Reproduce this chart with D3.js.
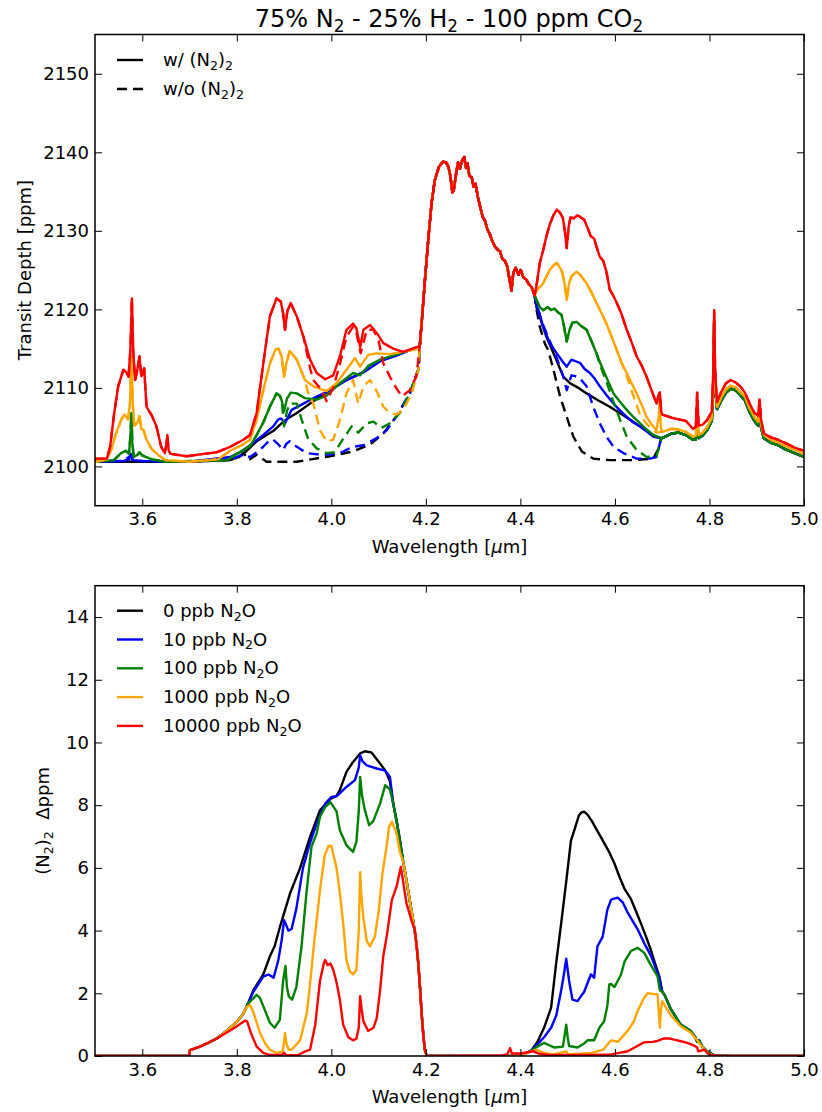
<!DOCTYPE html>
<html>
<head>
<meta charset="utf-8">
<script src="https://cdn.jsdelivr.net/npm/d3@7/dist/d3.min.js"></script>
<style>
  body { margin: 0; background: #fff; }
  svg { font-family: "DejaVu Sans", sans-serif; }
</style>
</head>
<body>
<svg id="chart" width="822" height="1112"></svg>
<script>
// ---- data: [wavelength (um), value] ----
const seriesNames = ["0", "10", "100", "1000", "10000"];
const seriesColors = ["#000000", "#0000ff", "#008000", "#ffa500", "#ff0000"];
const xTickValues = [3.6, 3.8, 4.0, 4.2, 4.4, 4.6, 4.8, 5.0];
const topYTicks = [2100, 2110, 2120, 2130, 2140, 2150];
const bottomYTicks = [0, 2, 4, 6, 8, 10, 12, 14];

// top panel: part every curve shares (CO2 band)
const topShared = [[4.187,2115.3],[4.191,2118.2],[4.198,2123.7],[4.205,2128.8],[4.212,2133.5],[4.219,2136.5],[4.228,2138.2],[4.236,2138.8],[4.243,2138.7],[4.248,2138.1],[4.252,2136.9],[4.256,2134.9],[4.259,2135.2],[4.264,2137.3],[4.268,2138.7],[4.272,2137.9],[4.276,2138.9],[4.281,2139.4],[4.285,2138.0],[4.288,2138.6],[4.292,2137.0],[4.297,2136.8],[4.301,2135.6],[4.305,2136.0],[4.310,2134.3],[4.314,2133.3],[4.320,2131.8],[4.325,2131.3],[4.330,2130.2],[4.335,2129.6],[4.340,2128.8],[4.346,2128.0],[4.352,2127.6],[4.357,2127.4],[4.362,2126.4],[4.367,2126.2],[4.372,2125.5],[4.377,2123.8],[4.381,2122.4],[4.385,2124.6],[4.390,2125.3],[4.396,2124.4],[4.401,2125.0],[4.406,2124.1],[4.412,2123.8],[4.418,2123.2],[4.424,2122.8],[4.430,2121.8]];

const blackSolidLeft = [[3.5,2100.6],[3.6,2100.6],[3.7,2100.6],[3.78,2100.8],[3.80,2101.1],[3.814,2101.6],[3.828,2102.4],[3.842,2103.2],[3.863,2104.0],[3.877,2104.5],[3.891,2105.3],[3.905,2106.0],[3.927,2106.8],[3.955,2108.0],[3.997,2109.7],[4.032,2111.0],[4.068,2112.0],[4.103,2113.4],[4.138,2114.2],[4.170,2114.9]];
const blueSolidLeft = [[3.5,2100.6],[3.56,2100.7],[3.572,2100.9],[3.576,2101.6],[3.580,2100.8],[3.60,2100.7],[3.7,2100.6],[3.786,2101.2],[3.81,2101.9],[3.828,2102.7],[3.856,2104.0],[3.877,2105.1],[3.888,2106.0],[3.894,2106.1],[3.902,2105.5],[3.916,2107.2],[3.941,2108.0],[3.969,2108.9],[3.997,2109.7],[4.032,2111.0],[4.068,2112.0],[4.103,2113.4],[4.138,2114.1],[4.170,2114.9]];
const greenSolidLeft = [[3.5,2100.6],[3.54,2100.8],[3.555,2101.7],[3.565,2102.0],[3.572,2101.6],[3.575,2104.0],[3.577,2106.8],[3.579,2103.0],[3.582,2101.2],[3.59,2101.5],[3.594,2101.8],[3.60,2101.4],[3.62,2100.9],[3.65,2100.6],[3.78,2100.8],[3.80,2101.6],[3.814,2102.1],[3.828,2102.6],[3.842,2104.0],[3.856,2105.6],[3.870,2107.6],[3.884,2109.3],[3.891,2109.0],[3.895,2108.4],[3.900,2107.0],[3.906,2108.6],[3.914,2109.4],[3.927,2109.3],[3.944,2108.7],[3.969,2108.5],[3.990,2109.0],[4.018,2110.6],[4.046,2111.9],[4.061,2111.6],[4.078,2112.8],[4.103,2113.6],[4.140,2114.3],[4.170,2114.9]];
const orangeSolidLeft = [[3.5,2100.6],[3.525,2100.9],[3.535,2102.2],[3.545,2104.3],[3.556,2106.0],[3.562,2106.6],[3.570,2106.0],[3.574,2108.0],[3.577,2114.0],[3.580,2108.0],[3.583,2105.2],[3.590,2105.6],[3.594,2106.4],[3.598,2104.8],[3.603,2104.6],[3.609,2103.4],[3.62,2102.2],[3.635,2101.4],[3.65,2100.8],[3.70,2100.6],[3.76,2100.9],[3.786,2102.0],[3.810,2102.7],[3.828,2103.4],[3.842,2106.0],[3.856,2109.7],[3.870,2113.1],[3.882,2114.9],[3.888,2115.0],[3.895,2114.0],[3.900,2111.4],[3.905,2113.2],[3.912,2114.7],[3.927,2113.6],[3.944,2111.0],[3.962,2110.2],[3.990,2109.6],[4.011,2110.6],[4.032,2112.3],[4.050,2113.8],[4.061,2112.7],[4.078,2114.2],[4.096,2114.4],[4.124,2114.3],[4.160,2114.7],[4.180,2114.9]];
const redSolidLeft = [[3.5,2101.0],[3.525,2101.0],[3.532,2102.5],[3.540,2106.5],[3.549,2110.2],[3.560,2112.3],[3.566,2112.0],[3.571,2111.4],[3.575,2115.0],[3.578,2121.4],[3.581,2114.5],[3.585,2111.0],[3.590,2112.5],[3.594,2114.0],[3.598,2111.5],[3.601,2111.8],[3.604,2112.5],[3.609,2107.6],[3.62,2106.5],[3.63,2105.1],[3.64,2102.5],[3.648,2101.7],[3.651,2102.8],[3.653,2104.0],[3.656,2102.0],[3.66,2101.6],[3.694,2101.3],[3.73,2101.6],[3.757,2101.8],[3.786,2102.5],[3.814,2103.4],[3.828,2104.0],[3.842,2106.8],[3.856,2113.1],[3.870,2119.1],[3.884,2121.4],[3.893,2121.0],[3.898,2119.5],[3.902,2117.4],[3.907,2119.8],[3.914,2120.8],[3.927,2119.1],[3.941,2116.5],[3.955,2113.6],[3.969,2111.9],[3.987,2111.1],[4.004,2111.6],[4.018,2114.0],[4.032,2117.4],[4.046,2118.2],[4.053,2117.6],[4.061,2115.2],[4.068,2117.4],[4.082,2118.0],[4.096,2117.0],[4.110,2115.7],[4.131,2115.0],[4.152,2114.6],[4.180,2115.2]];

const blackSolidRight = [[4.434,2120.3],[4.445,2118.3],[4.455,2116.5],[4.473,2114.0],[4.491,2111.4],[4.505,2110.6],[4.520,2110.1],[4.540,2109.3],[4.565,2108.4],[4.589,2107.6],[4.615,2106.6],[4.639,2105.7],[4.660,2104.8],[4.681,2104.0],[4.695,2103.6]];
const blueSolidRight = [[4.434,2120.6],[4.440,2119.6],[4.448,2117.8],[4.455,2116.8],[4.462,2115.7],[4.477,2114.4],[4.490,2113.3],[4.498,2112.7],[4.508,2113.6],[4.516,2113.4],[4.526,2113.2],[4.536,2112.4],[4.547,2111.9],[4.557,2111.2],[4.568,2110.2],[4.582,2109.1],[4.597,2108.0],[4.611,2107.1],[4.625,2106.3],[4.639,2105.6],[4.653,2105.1],[4.668,2104.4],[4.681,2103.8],[4.695,2103.6]];
const greenSolidRight = [[4.434,2121.2],[4.441,2120.3],[4.448,2119.9],[4.458,2120.3],[4.465,2119.9],[4.472,2120.1],[4.480,2119.6],[4.487,2119.3],[4.493,2117.6],[4.498,2115.9],[4.504,2117.4],[4.510,2118.3],[4.519,2118.4],[4.528,2117.9],[4.540,2117.4],[4.550,2116.0],[4.561,2114.4],[4.568,2113.3],[4.575,2112.3],[4.586,2110.8],[4.597,2109.3],[4.611,2108.2],[4.625,2107.2],[4.639,2106.3],[4.653,2105.5],[4.667,2104.7],[4.681,2104.0],[4.695,2103.7]];
const orangeSolidRight = [[4.434,2122.4],[4.448,2123.3],[4.455,2124.2],[4.462,2125.0],[4.470,2125.6],[4.477,2125.9],[4.487,2125.0],[4.493,2123.5],[4.498,2121.2],[4.503,2123.3],[4.508,2124.2],[4.519,2124.8],[4.528,2124.3],[4.540,2123.3],[4.550,2122.2],[4.561,2120.8],[4.571,2119.6],[4.582,2118.2],[4.593,2116.5],[4.604,2114.8],[4.614,2113.2],[4.625,2111.9],[4.636,2110.5],[4.646,2109.3],[4.657,2107.8],[4.667,2106.3],[4.678,2105.3],[4.688,2104.6],[4.693,2106.5],[4.695,2109.0],[4.697,2105.0]];
const redSolidRight = [[4.434,2123.0],[4.441,2125.9],[4.448,2127.5],[4.455,2129.3],[4.462,2130.8],[4.470,2132.0],[4.477,2132.7],[4.484,2132.3],[4.490,2131.6],[4.494,2130.0],[4.498,2127.8],[4.502,2130.5],[4.506,2131.7],[4.513,2131.6],[4.521,2132.0],[4.528,2131.7],[4.535,2131.4],[4.542,2130.4],[4.549,2129.3],[4.556,2129.0],[4.561,2128.0],[4.568,2126.7],[4.575,2126.2],[4.582,2124.8],[4.589,2122.5],[4.596,2121.8],[4.604,2120.8],[4.614,2119.4],[4.625,2117.4],[4.636,2115.7],[4.646,2114.0],[4.657,2112.8],[4.667,2111.4],[4.678,2109.6],[4.688,2108.0],[4.692,2109.0],[4.695,2109.4],[4.698,2107.0]];

const tailLow = [[4.70,2103.6],[4.71,2103.9],[4.72,2104.2],[4.735,2104.3],[4.75,2104.0],[4.765,2103.4],[4.771,2103.4],[4.774,2105.5],[4.777,2103.6],[4.785,2103.9],[4.795,2104.6],[4.805,2105.8],[4.808,2110.0],[4.810,2118.5],[4.812,2110.0],[4.816,2107.3],[4.825,2108.4],[4.835,2109.4],[4.845,2109.9],[4.855,2109.7],[4.865,2109.1],[4.875,2108.4],[4.885,2106.9],[4.895,2105.8],[4.903,2105.2],[4.906,2107.8],[4.909,2105.0],[4.915,2103.6],[4.93,2103.0],[4.945,2102.7],[4.96,2102.2],[4.98,2101.7],[5.0,2101.2]];
const tailOrange = [[4.70,2104.4],[4.71,2104.6],[4.72,2104.8],[4.735,2104.7],[4.75,2104.4],[4.765,2103.8],[4.771,2103.9],[4.774,2107.0],[4.777,2104.0],[4.785,2104.3],[4.795,2105.0],[4.805,2106.2],[4.808,2110.5],[4.810,2119.0],[4.812,2110.5],[4.816,2107.6],[4.825,2108.8],[4.835,2109.8],[4.845,2110.3],[4.855,2110.1],[4.865,2109.5],[4.875,2108.9],[4.885,2107.4],[4.895,2106.3],[4.903,2105.7],[4.906,2108.0],[4.909,2105.4],[4.915,2104.0],[4.93,2103.4],[4.945,2103.1],[4.96,2102.6],[4.98,2102.1],[5.0,2101.6]];
const tailRed = [[4.70,2106.6],[4.71,2106.4],[4.72,2106.2],[4.735,2106.0],[4.75,2105.8],[4.765,2104.8],[4.771,2105.0],[4.774,2109.4],[4.777,2105.2],[4.785,2105.3],[4.795,2105.9],[4.805,2107.0],[4.808,2112.0],[4.810,2119.9],[4.812,2112.0],[4.816,2108.2],[4.825,2109.5],[4.835,2110.6],[4.845,2111.0],[4.855,2110.7],[4.865,2110.2],[4.875,2109.4],[4.885,2108.0],[4.895,2106.8],[4.903,2106.5],[4.906,2108.5],[4.909,2106.0],[4.915,2104.2],[4.93,2103.7],[4.945,2103.4],[4.96,2103.0],[4.98,2102.4],[5.0,2102.0]];

// dashed (w/o collision-induced absorption) where they leave the solid curves
const blackDashedLeft = [[3.5,2100.6],[3.7,2100.6],[3.786,2100.8],[3.805,2101.2],[3.814,2101.7],[3.825,2100.8],[3.842,2101.5],[3.863,2100.6],[3.927,2100.6],[3.997,2101.3],[4.046,2101.9],[4.082,2102.8],[4.110,2104.2],[4.138,2106.4],[4.166,2109.3],[4.185,2112.5]];
const blueDashedLeft = [[3.5,2100.6],[3.56,2100.7],[3.576,2101.4],[3.58,2100.7],[3.7,2100.6],[3.786,2100.9],[3.814,2101.5],[3.828,2101.2],[3.842,2101.8],[3.856,2102.5],[3.870,2103.4],[3.877,2103.4],[3.888,2102.8],[3.898,2102.1],[3.905,2102.9],[3.912,2103.2],[3.927,2102.5],[3.948,2101.7],[3.976,2101.5],[3.997,2101.5],[4.018,2101.7],[4.046,2102.5],[4.068,2102.7],[4.096,2103.6],[4.117,2104.6],[4.138,2106.4],[4.166,2109.3],[4.185,2112.5]];
const greenDashedMid = [[3.900,2105.1],[3.906,2107.0],[3.912,2108.0],[3.927,2108.0],[3.937,2106.0],[3.951,2103.5],[3.969,2102.3],[3.990,2101.7],[4.007,2101.8],[4.025,2103.5],[4.043,2105.1],[4.057,2104.3],[4.075,2105.5],[4.089,2105.7],[4.106,2104.9],[4.124,2105.5],[4.145,2106.8],[4.166,2109.3],[4.185,2112.5]];
const orangeDashedMid = [[3.950,2109.5],[3.962,2108.0],[3.976,2104.6],[3.990,2103.2],[4.004,2103.4],[4.018,2105.9],[4.032,2109.3],[4.046,2111.0],[4.057,2108.0],[4.068,2110.2],[4.082,2111.0],[4.096,2109.6],[4.110,2107.6],[4.124,2106.8],[4.138,2106.6],[4.152,2107.2],[4.170,2109.3],[4.185,2112.5]];
const redDashedMid = [[3.955,2112.5],[3.962,2111.0],[3.980,2109.7],[3.990,2108.3],[4.004,2110.0],[4.018,2113.0],[4.032,2116.5],[4.046,2117.8],[4.053,2117.0],[4.062,2114.4],[4.075,2117.4],[4.089,2117.4],[4.100,2116.0],[4.110,2113.1],[4.131,2110.6],[4.149,2108.9],[4.166,2109.7],[4.180,2111.5]];
const blackDashedRight = [[4.434,2120.0],[4.441,2117.8],[4.452,2115.6],[4.459,2114.8],[4.470,2112.3],[4.484,2108.9],[4.498,2106.3],[4.512,2103.8],[4.530,2101.9],[4.554,2101.0],[4.589,2100.8],[4.639,2100.8],[4.681,2101.0],[4.691,2102.1],[4.697,2103.4]];
const blueDashedRight = [[4.434,2120.4],[4.448,2118.0],[4.462,2116.0],[4.477,2113.8],[4.491,2111.4],[4.498,2109.7],[4.508,2111.6],[4.516,2111.5],[4.526,2111.2],[4.540,2110.2],[4.554,2107.6],[4.568,2105.5],[4.582,2103.8],[4.597,2102.5],[4.618,2101.7],[4.646,2101.0],[4.674,2101.0],[4.688,2101.2],[4.697,2103.4]];
const greenDashedRight = [[4.568,2113.0],[4.582,2110.8],[4.597,2108.2],[4.611,2105.9],[4.625,2103.8],[4.646,2102.1],[4.667,2101.2],[4.688,2101.3],[4.697,2103.4]];
const orangeDashedRight = [[4.625,2111.5],[4.639,2109.0],[4.653,2106.6],[4.667,2105.4],[4.688,2104.3],[4.697,2104.4]];

// bottom panel: (N2)2 difference in ppm
const bottomRise = [[3.5,0],[3.6,0],[3.699,0],[3.701,0.19],[3.722,0.3],[3.740,0.42],[3.757,0.56],[3.775,0.76],[3.793,0.99],[3.805,1.17],[3.814,1.36],[3.820,1.55],[3.824,1.68]];
const bottomDrop = [[4.131,8.05],[4.138,7.5],[4.145,6.88],[4.152,6.2],[4.159,5.6],[4.166,4.95],[4.173,4.33],[4.180,3.6],[4.184,2.95],[4.188,2.1],[4.191,1.36],[4.195,0.6],[4.198,0.19],[4.202,0],[4.30,0],[4.40,0]];
const bottomTail = [[4.70,2.05],[4.705,1.95],[4.718,1.5],[4.739,1.0],[4.750,0.9],[4.760,0.8],[4.770,0.6],[4.774,0.45],[4.778,0.5],[4.785,0.3],[4.795,0.15],[4.81,0.02],[4.85,0],[5.0,0]];

const blackBandA = [[3.835,2.1],[3.856,2.6],[3.870,3.18],[3.880,3.5],[3.891,4.1],[3.913,5.2],[3.934,6.0],[3.955,6.99],[3.976,7.84],[3.998,8.2],[4.011,8.3],[4.018,8.48],[4.032,9.06],[4.046,9.38],[4.061,9.65],[4.071,9.72],[4.085,9.68],[4.103,9.33],[4.114,9.11],[4.124,8.75]];
const blackBandB = [[4.423,0.17],[4.436,0.45],[4.45,0.9],[4.465,1.54],[4.476,3.0],[4.486,4.2],[4.497,5.57],[4.507,6.88],[4.514,7.2],[4.524,7.68],[4.530,7.78],[4.535,7.79],[4.542,7.7],[4.551,7.5],[4.560,7.25],[4.570,6.99],[4.577,6.8],[4.588,6.5],[4.599,6.14],[4.610,5.7],[4.620,5.34],[4.634,5.0],[4.645,4.6],[4.655,4.23],[4.666,3.8],[4.676,3.38],[4.686,2.9],[4.694,2.53]];
const blueBandA = [[3.835,2.05],[3.846,2.3],[3.856,2.53],[3.867,2.6],[3.878,2.5],[3.888,3.07],[3.895,3.7],[3.900,4.33],[3.904,4.2],[3.909,4.0],[3.916,4.05],[3.926,4.7],[3.940,6.0],[3.955,6.8],[3.969,7.42],[3.987,8.05],[4.000,8.26],[4.011,8.28],[4.032,8.58],[4.050,8.8],[4.058,9.2],[4.061,9.59],[4.066,9.4],[4.075,9.27],[4.096,9.17],[4.114,9.1],[4.124,8.9]];
const blueBandB = [[4.423,0.17],[4.436,0.37],[4.45,0.6],[4.465,0.9],[4.476,1.3],[4.486,2.07],[4.492,2.6],[4.497,3.1],[4.503,2.4],[4.510,1.8],[4.521,1.75],[4.528,1.9],[4.535,2.05],[4.549,2.6],[4.556,2.5],[4.563,3.5],[4.574,3.8],[4.584,4.67],[4.592,4.99],[4.606,5.05],[4.617,4.89],[4.627,4.57],[4.648,4.04],[4.662,3.6],[4.676,3.2],[4.694,2.5]];
const greenBandA = [[3.835,1.84],[3.842,1.95],[3.849,1.85],[3.856,1.59],[3.870,1.06],[3.880,0.9],[3.891,1.15],[3.898,2.4],[3.903,2.87],[3.906,2.2],[3.910,1.9],[3.917,1.8],[3.926,2.2],[3.937,3.5],[3.948,5.3],[3.958,6.67],[3.969,7.1],[3.976,7.63],[3.987,7.94],[3.998,8.10],[4.011,7.8],[4.018,7.2],[4.032,6.72],[4.046,6.51],[4.053,6.83],[4.058,7.8],[4.061,8.9],[4.065,8.3],[4.071,7.84],[4.080,7.36],[4.089,7.5],[4.103,8.05],[4.114,8.64],[4.124,8.5]];
const greenBandB = [[4.423,0.17],[4.436,0.3],[4.45,0.42],[4.46,0.35],[4.472,0.27],[4.49,0.3],[4.494,0.7],[4.497,1.0],[4.500,0.6],[4.503,0.32],[4.521,0.27],[4.535,0.4],[4.542,0.5],[4.556,0.5],[4.567,0.9],[4.577,1.1],[4.584,1.6],[4.588,2.28],[4.592,2.3],[4.599,2.2],[4.613,2.6],[4.620,3.0],[4.634,3.35],[4.648,3.45],[4.662,3.29],[4.676,2.9],[4.690,2.55],[4.695,2.1]];
const orangeBandA = [[3.828,1.63],[3.835,1.4],[3.849,0.74],[3.860,0.4],[3.870,0.2],[3.884,0.1],[3.897,0.15],[3.900,0.45],[3.902,0.73],[3.905,0.4],[3.910,0.2],[3.916,0.2],[3.925,0.35],[3.934,0.5],[3.948,1.36],[3.955,2.3],[3.962,3.38],[3.976,5.3],[3.986,6.4],[3.994,6.7],[4.000,6.7],[4.011,6.0],[4.018,5.2],[4.025,4.24],[4.032,3.06],[4.039,2.7],[4.046,2.6],[4.053,2.75],[4.058,4.0],[4.061,5.86],[4.064,5.0],[4.068,4.4],[4.075,3.66],[4.082,3.5],[4.092,3.8],[4.100,4.6],[4.108,5.8],[4.117,6.7],[4.122,7.3],[4.128,7.47],[4.138,7.1],[4.145,6.5]];
const orangeBandB = [[4.423,0.15],[4.435,0.2],[4.45,0.1],[4.47,0.05],[4.497,0.15],[4.50,0.05],[4.55,0.1],[4.575,0.2],[4.592,0.5],[4.606,0.45],[4.627,0.8],[4.640,1.1],[4.648,1.44],[4.662,1.86],[4.669,2.0],[4.680,1.98],[4.690,1.97],[4.693,1.4],[4.695,0.9],[4.697,1.4],[4.700,1.75],[4.718,1.3],[4.739,0.95],[4.76,0.75],[4.774,0.5],[4.78,0.38],[4.795,0.12],[4.81,0],[5.0,0]];
const redBandA = [[3.5,0],[3.699,0],[3.701,0.19],[3.722,0.3],[3.757,0.55],[3.793,0.88],[3.810,1.05],[3.818,1.13],[3.822,1.1],[3.830,0.73],[3.842,0.3],[3.856,0.1],[3.870,0.03],[3.895,0.03],[3.900,0.1],[3.905,0.02],[3.930,0.03],[3.945,0.15],[3.955,0.2],[3.966,1.0],[3.976,2.4],[3.984,2.95],[3.987,3.06],[3.992,2.9],[3.998,2.95],[4.004,2.75],[4.011,2.35],[4.018,1.8],[4.025,1.0],[4.036,0.6],[4.046,0.5],[4.053,0.55],[4.058,0.9],[4.061,1.91],[4.064,1.5],[4.068,1.1],[4.078,0.8],[4.089,0.9],[4.096,1.2],[4.103,2.07],[4.110,3.2],[4.117,3.8],[4.128,4.97],[4.138,5.4],[4.147,6.03],[4.159,4.87],[4.170,4.3],[4.177,4.0]];
const redBandB = [[4.30,0.01],[4.36,0.02],[4.372,0.05],[4.378,0.25],[4.382,0.08],[4.40,0.08],[4.415,0.12],[4.428,0.15],[4.44,0.07],[4.46,0.03],[4.55,0.03],[4.592,0.05],[4.627,0.15],[4.662,0.44],[4.68,0.45],[4.690,0.48],[4.704,0.56],[4.715,0.56],[4.725,0.52],[4.740,0.47],[4.753,0.42],[4.765,0.35],[4.774,0.27],[4.776,0.15],[4.789,0.2],[4.80,0.03],[4.82,0],[5.0,0]];

// ---- build the series ----
const before = (arr, w) => arr.filter((d) => d[0] < w);
const after = (arr, w) => arr.filter((d) => d[0] >= w);

const topSolid = [
  blackSolidLeft.concat(topShared, blackSolidRight, tailLow),
  blueSolidLeft.concat(topShared, blueSolidRight, tailLow),
  greenSolidLeft.concat(topShared, greenSolidRight, tailLow),
  orangeSolidLeft.concat(topShared, orangeSolidRight, tailOrange),
  redSolidLeft.concat(topShared, redSolidRight, tailRed),
];
const topDashed = [
  blackDashedLeft.concat(topShared, blackDashedRight, tailLow),
  blueDashedLeft.concat(topShared, blueDashedRight, tailLow),
  before(greenSolidLeft, 3.897).concat(greenDashedMid, topShared, before(greenSolidRight, 4.565), greenDashedRight, tailLow),
  before(orangeSolidLeft, 3.946).concat(orangeDashedMid, topShared, before(orangeSolidRight, 4.62), orangeDashedRight, tailOrange),
  before(redSolidLeft, 3.950).concat(redDashedMid, topShared, redSolidRight, tailRed),
];
const bottomSeries = [
  bottomRise.concat(blackBandA, bottomDrop, blackBandB, bottomTail),
  bottomRise.concat(blueBandA, bottomDrop, blueBandB, bottomTail),
  bottomRise.concat(greenBandA, bottomDrop, greenBandB, bottomTail),
  before(bottomRise, 3.822).concat(orangeBandA, after(bottomDrop, 4.152), orangeBandB),
  redBandA.concat(after(bottomDrop, 4.184).filter((d) => d[0] < 4.3), redBandB),
];

// ---- layout ----
const svg = d3.select("#chart");
const plotLeft = 95;
const plotRight = 804;
const tickLen = 7;
const fontSize = 18;
const lineWidth = 2.4;
const dashPattern = "10,6";

function richText(textSel, parts, size) {
  let shift = 0;
  parts.forEach((p) => {
    if (typeof p === "string") {
      textSel.append("tspan").attr("dy", -shift).text(p);
      shift = 0;
    } else if (p.sub) {
      const s = size * 0.22;
      textSel.append("tspan").attr("dy", s - shift).attr("font-size", size * 0.7).text(p.sub);
      shift = s;
    } else if (p.it) {
      textSel.append("tspan").attr("dy", -shift).attr("font-style", "italic").text(p.it);
      shift = 0;
    }
  });
}

function drawPanel(cfg) {
  const x = d3.scaleLinear().domain([3.5, 5.0]).range([plotLeft, plotRight]);
  const y = d3.scaleLinear().domain(cfg.yDomain).range([cfg.bottom, cfg.top]);
  const g = svg.append("g");

  g.append("clipPath").attr("id", cfg.id + "-clip")
    .append("rect")
    .attr("x", plotLeft).attr("y", cfg.top)
    .attr("width", plotRight - plotLeft).attr("height", cfg.bottom - cfg.top);

  const line = d3.line().x((d) => x(d[0])).y((d) => y(d[1]));
  const lines = g.append("g").attr("clip-path", `url(#${cfg.id}-clip)`);
  cfg.series.forEach((s) => {
    lines.append("path")
      .datum(s.data)
      .attr("fill", "none")
      .attr("stroke", s.color)
      .attr("stroke-width", lineWidth)
      .attr("stroke-linejoin", "round")
      .attr("stroke-dasharray", s.dashed ? dashPattern : null)
      .attr("d", line);
  });

  // axes, ticks pointing inward on all four sides
  const bottomAxis = g.append("g")
    .attr("transform", `translate(0,${cfg.bottom})`)
    .call(d3.axisBottom(x).tickValues(xTickValues).tickFormat(d3.format(".1f"))
      .tickSizeInner(-tickLen).tickSizeOuter(0).tickPadding(7));
  const topAxis = g.append("g")
    .attr("transform", `translate(0,${cfg.top})`)
    .call(d3.axisTop(x).tickValues(xTickValues).tickFormat("").tickSizeInner(-tickLen).tickSizeOuter(0));
  const leftAxis = g.append("g")
    .attr("transform", `translate(${plotLeft},0)`)
    .call(d3.axisLeft(y).tickValues(cfg.yTicks).tickFormat(d3.format("d"))
      .tickSizeInner(-tickLen).tickSizeOuter(0).tickPadding(6));
  const rightAxis = g.append("g")
    .attr("transform", `translate(${plotRight},0)`)
    .call(d3.axisRight(y).tickValues(cfg.yTicks).tickFormat("").tickSizeInner(-tickLen).tickSizeOuter(0));
  [bottomAxis, topAxis, leftAxis, rightAxis].forEach((a) => {
    a.select(".domain").remove();
    a.selectAll("line").attr("stroke", "#000").attr("stroke-width", 1);
    a.selectAll("text").attr("font-family", "DejaVu Sans").attr("font-size", fontSize).attr("fill", "#000");
  });

  g.append("rect")
    .attr("x", plotLeft).attr("y", cfg.top)
    .attr("width", plotRight - plotLeft).attr("height", cfg.bottom - cfg.top)
    .attr("fill", "none").attr("stroke", "#000").attr("stroke-width", 1.5);

  // x label
  const xl = g.append("text")
    .attr("x", (plotLeft + plotRight) / 2).attr("y", cfg.bottom + 47)
    .attr("text-anchor", "middle").attr("font-size", fontSize);
  richText(xl, ["Wavelength [", { it: "\u03bc" }, "m]"], fontSize);

  // y label
  const yl = g.append("text")
    .attr("transform", `translate(${cfg.yLabelX},${(cfg.top + cfg.bottom) / 2}) rotate(-90)`)
    .attr("text-anchor", "middle").attr("font-size", fontSize)
    .style("white-space", "pre");
  richText(yl, cfg.yLabel, fontSize);

  // legend
  cfg.legend.forEach((item, i) => {
    const ly = cfg.legendTop + i * cfg.legendStep;
    g.append("line")
      .attr("x1", 117).attr("x2", 143).attr("y1", ly).attr("y2", ly)
      .attr("stroke", item.color).attr("stroke-width", lineWidth)
      .attr("stroke-dasharray", item.dashed ? dashPattern : null);
    const t = g.append("text").attr("x", 163).attr("y", ly + 6).attr("font-size", 18);
    richText(t, item.label, 18);
  });
}

// title
const title = svg.append("text")
  .attr("x", 449).attr("y", 27)
  .attr("text-anchor", "middle").attr("font-size", 24);
richText(title, ["75% N", { sub: "2" }, " - 25% H", { sub: "2" }, " - 100 ppm CO", { sub: "2" }], 24);

const topLines = [];
seriesColors.forEach((c, i) => {
  topLines.push({ color: c, data: topSolid[i], dashed: false });
  topLines.push({ color: c, data: topDashed[i], dashed: true });
});

drawPanel({
  id: "top",
  top: 34.5,
  bottom: 505.7,
  yDomain: [2095, 2155],
  yTicks: topYTicks,
  yLabelX: 31,
  yLabel: ["Transit Depth [ppm]"],
  series: topLines,
  legendTop: 60,
  legendStep: 29,
  legend: [
    { color: "#000", dashed: false, label: ["w/ (N", { sub: "2" }, ")", { sub: "2" }] },
    { color: "#000", dashed: true, label: ["w/o (N", { sub: "2" }, ")", { sub: "2" }] },
  ],
});

drawPanel({
  id: "bottom",
  top: 585.7,
  bottom: 1056,
  yDomain: [0, 15],
  yTicks: bottomYTicks,
  yLabelX: 49,
  yLabel: ["(N", { sub: "2" }, ")", { sub: "2" }, "  \u0394ppm"],
  series: bottomSeries.map((d, i) => ({ color: seriesColors[i], data: d, dashed: false })),
  legendTop: 610.7,
  legendStep: 28.8,
  legend: seriesNames.map((n, i) => ({
    color: seriesColors[i], dashed: false, label: [n + " ppb N", { sub: "2" }, "O"],
  })),
});
</script>
</body>
</html>
